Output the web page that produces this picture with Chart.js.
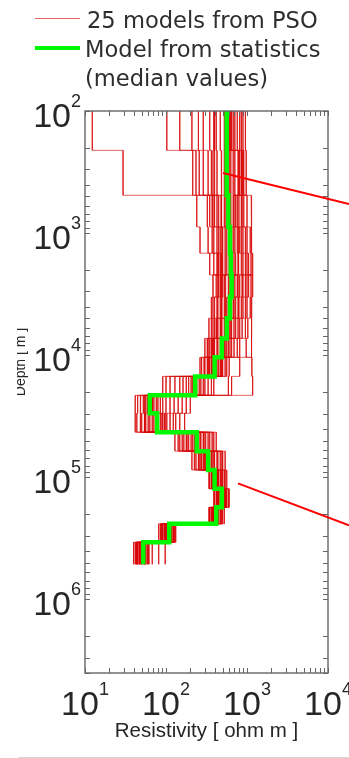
<!DOCTYPE html>
<html>
<head>
<meta charset="utf-8">
<title>PSO resistivity models</title>
<script src="https://cdn.jsdelivr.net/npm/chart.js@4.4.1/dist/chart.umd.min.js"></script>
<style>
  html, body { margin: 0; padding: 0; background: #ffffff; }
  #wrap { position: relative; width: 349px; height: 758px; overflow: hidden; }
  canvas { display: block; }
</style>
</head>
<body>
<div id="wrap"><canvas id="profile" width="349" height="758"></canvas></div>
<script>
// Depth of the top of each layer (m); the last layer ends at layerBottom
const layerTops = [100, 210, 490, 890, 1460, 2200, 3340, 4980, 7280, 10400,
                   14900, 21300, 29900, 42700, 61000, 87000, 124000, 176000, 240000, 340000];
const layerBottom = 515000;

// log10 of resistivity (ohm m), one value per layer, for each of the 25 PSO models
const pso01 = [1.09, 1.47, 2.38, 2.42, 2.54, 2.69, 2.68, 2.64, 2.58, 2.58, 2.35, 1.81, 1.85, 2.37, 2.52, 2.62, 2.70, 2.63, 2.05, 1.73];
const pso02 = [2.46, 2.52, 2.65, 2.69, 2.69, 2.74, 2.73, 2.69, 2.63, 2.51, 2.17, 1.74, 1.73, 2.17, 2.37, 2.56, 2.63, 2.56, 1.95, 1.64];
const pso03 = [2.75, 2.75, 2.80, 2.83, 2.84, 2.88, 2.84, 2.80, 2.73, 2.69, 2.48, 2.00, 1.99, 2.52, 2.64, 2.69, 2.73, 2.65, 2.07, 1.77];
const pso04 = [2.88, 2.93, 2.90, 2.93, 2.95, 2.91, 2.89, 2.84, 2.77, 2.60, 2.36, 1.83, 1.89, 2.33, 2.48, 2.60, 2.65, 2.59, 1.99, 1.67];
const pso05 = [2.60, 2.60, 2.58, 2.63, 2.65, 2.64, 2.60, 2.58, 2.52, 2.44, 2.00, 1.65, 1.64, 2.25, 2.43, 2.58, 2.67, 2.60, 2.01, 1.69];
const pso06 = [2.80, 2.85, 2.94, 2.98, 3.00, 3.05, 3.04, 3.01, 2.99, 3.06, 3.07, 2.30, 2.23, 2.57, 2.69, 2.72, 2.74, 2.67, 2.09, 1.78];
const pso07 = [2.17, 2.37, 2.57, 2.59, 2.64, 2.58, 2.56, 2.53, 2.48, 2.54, 2.28, 1.78, 1.78, 2.36, 2.51, 2.62, 2.64, 2.58, 1.98, 1.65];
const pso08 = [2.95, 2.96, 3.05, 3.06, 3.07, 2.98, 2.95, 2.91, 2.84, 2.67, 2.43, 1.93, 1.96, 2.40, 2.54, 2.63, 2.69, 2.62, 2.04, 1.70];
const pso09 = [2.67, 2.68, 2.69, 2.73, 2.73, 2.79, 2.77, 2.73, 2.67, 2.62, 2.37, 1.85, 1.90, 2.43, 2.57, 2.64, 2.72, 2.64, 2.06, 1.75];
const pso10 = [2.78, 2.80, 2.77, 2.79, 2.80, 2.77, 2.75, 2.72, 2.64, 2.56, 2.31, 1.79, 1.80, 2.26, 2.44, 2.58, 2.63, 2.57, 1.96, 1.64];
const pso11 = [2.54, 2.56, 2.68, 2.70, 2.70, 2.67, 2.64, 2.62, 2.56, 2.47, 2.05, 1.69, 1.68, 2.11, 2.32, 2.53, 2.60, 2.54, 1.93, 1.62];
const pso12 = [2.83, 2.90, 2.84, 2.88, 2.89, 2.83, 2.80, 2.77, 2.70, 2.70, 2.52, 2.05, 2.01, 2.47, 2.60, 2.67, 2.75, 2.69, 2.10, 1.83];
const pso13 = [2.98, 2.99, 2.96, 3.00, 3.02, 3.07, 3.06, 3.05, 3.06, 2.78, 2.77, 2.20, 2.12, 2.62, 2.73, 2.75, 2.78, 2.72, 2.12, 1.99];
const pso14 = [2.32, 2.41, 2.51, 2.52, 2.59, 2.65, 2.63, 2.60, 2.54, 2.42, 1.96, 1.62, 1.62, 2.20, 2.40, 2.57, 2.59, 2.53, 1.91, 1.60];
const pso15 = [2.72, 2.72, 2.79, 2.81, 2.81, 2.89, 2.86, 2.81, 2.75, 2.63, 2.38, 1.88, 1.93, 2.35, 2.49, 2.60, 2.67, 2.59, 2.00, 1.68];
const pso16 = [2.91, 2.94, 2.93, 2.95, 2.98, 2.94, 2.90, 2.86, 2.79, 2.73, 2.56, 2.10, 2.05, 2.54, 2.67, 2.70, 2.73, 2.65, 2.07, 1.75];
const pso17 = [2.62, 2.63, 2.74, 2.78, 2.78, 2.70, 2.69, 2.67, 2.59, 2.52, 2.21, 1.75, 1.74, 2.31, 2.47, 2.59, 2.69, 2.62, 2.04, 1.72];
const pso18 = [2.01, 2.33, 2.54, 2.57, 2.63, 2.62, 2.58, 2.56, 2.51, 2.48, 2.11, 1.72, 1.70, 2.15, 2.35, 2.54, 2.62, 2.54, 1.94, 1.63];
const pso19 = [2.79, 2.83, 2.86, 2.89, 2.90, 2.95, 2.93, 2.89, 2.81, 2.68, 2.46, 1.96, 1.98, 2.38, 2.53, 2.63, 2.72, 2.64, 2.06, 1.74];
const pso20 = [2.85, 2.91, 3.00, 3.04, 3.05, 3.02, 3.00, 2.98, 2.91, 2.75, 2.59, 2.15, 2.09, 2.59, 2.70, 2.73, 2.77, 2.70, 2.11, 1.91];
const pso21 = [2.40, 2.46, 2.60, 2.65, 2.67, 2.72, 2.72, 2.68, 2.60, 2.57, 2.33, 1.80, 1.83, 2.28, 2.46, 2.59, 2.64, 2.57, 1.96, 1.65];
const pso22 = [2.77, 2.78, 2.72, 2.75, 2.75, 2.81, 2.79, 2.75, 2.69, 2.65, 2.41, 1.90, 1.95, 2.46, 2.59, 2.65, 2.70, 2.63, 2.05, 1.74];
const pso23 = [2.93, 2.95, 2.88, 2.91, 2.93, 3.00, 2.98, 2.94, 2.88, 2.91, 2.81, 2.25, 2.17, 2.49, 2.63, 2.68, 2.74, 2.68, 2.09, 1.79];
const pso24 = [2.59, 2.58, 2.63, 2.67, 2.68, 2.68, 2.67, 2.63, 2.57, 2.53, 2.25, 1.77, 1.75, 2.22, 2.41, 2.57, 2.65, 2.58, 1.99, 1.67];
const pso25 = [2.81, 2.89, 2.83, 2.85, 2.86, 2.85, 2.83, 2.78, 2.72, 2.59, 2.36, 1.83, 1.88, 2.42, 2.56, 2.64, 2.68, 2.60, 2.02, 1.70];

// log10 of resistivity (ohm m) of the model built from the median values
const medianModel = [2.75, 2.75, 2.77, 2.79, 2.80, 2.81, 2.79, 2.75, 2.69, 2.60, 2.36, 1.80, 1.89, 2.38, 2.52, 2.60, 2.69, 2.62, 2.04, 1.72];

// Axis ranges and decade tick labels (exponents of 10)
const rhoRange = [10, 10000];
const depthRange = [100, 4000000];
const xTickExponents = [1, 2, 3, 4];
const yTickExponents = [2, 3, 4, 5, 6];

// Pointer lines: [resistivity, depth] at each end
const pointerUpperFrom = [505, 322];
const pointerUpperTo = [18150, 578];
const pointerLowerFrom = [774, 112000];
const pointerLowerTo = [18150, 247000];

const legendLabels = ['25 models from PSO', 'Model from statistics', '(median values)'];
const xTitle = 'Resistivity [ ohm m ]';
const yTitle = 'Depth [ m ]';

const psoModels = [pso01, pso02, pso03, pso04, pso05, pso06, pso07, pso08, pso09, pso10,
                   pso11, pso12, pso13, pso14, pso15, pso16, pso17, pso18, pso19, pso20,
                   pso21, pso22, pso23, pso24, pso25];

const PSO_COLOR = 'rgba(215, 0, 0, 0.6)';
const MEDIAN_COLOR = 'rgb(0, 248, 0)';
const AXIS_COLOR = '#666666';
const TEXT_COLOR = '#262626';

// Turn a layered model into the corner points of its staircase profile
function stepPoints(logRho) {
  const pts = [];
  logRho.forEach((v, i) => {
    const rho = Math.pow(10, v);
    const top = layerTops[i];
    const bottom = i + 1 < layerTops.length ? layerTops[i + 1] : layerBottom;
    pts.push({ x: rho, y: top }, { x: rho, y: bottom });
  });
  return pts;
}

const datasets = [{
  label: 'median',
  data: stepPoints(medianModel),
  borderColor: MEDIAN_COLOR,
  borderWidth: 4.5,
  order: 0
}];
psoModels.forEach((m, i) => {
  datasets.push({
    label: 'pso' + (i + 1),
    data: stepPoints(m),
    borderColor: PSO_COLOR,
    borderWidth: 1,
    order: 1
  });
});

// Matlab-style frame: box, inward ticks, 10^n labels, titles, legend and pointer lines
const figureDecor = {
  id: 'figureDecor',
  afterDraw(chart) {
    const ctx = chart.ctx;
    const ca = chart.chartArea;
    const xs = chart.scales.x;
    const ys = chart.scales.y;
    ctx.save();

    // box
    ctx.strokeStyle = AXIS_COLOR;
    ctx.lineWidth = 1.4;
    ctx.strokeRect(ca.left, ca.top, ca.right - ca.left, ca.bottom - ca.top);

    // inward ticks on all four sides (decades and 2..9 multiples)
    const tickLen = 5;
    ctx.lineWidth = 1;
    ctx.beginPath();
    for (let e = 1; e <= 3; e++) {
      for (let m = 1; m <= 10; m++) {
        const v = m * Math.pow(10, e);
        if (v < rhoRange[0] || v > rhoRange[1]) continue;
        const px = Math.round(xs.getPixelForValue(v)) + 0.5;
        ctx.moveTo(px, ca.bottom); ctx.lineTo(px, ca.bottom - tickLen);
        ctx.moveTo(px, ca.top); ctx.lineTo(px, ca.top + tickLen);
      }
    }
    for (let e = 2; e <= 6; e++) {
      for (let m = 1; m <= 10; m++) {
        const v = m * Math.pow(10, e);
        if (v < depthRange[0] || v > depthRange[1]) continue;
        const py = Math.round(ys.getPixelForValue(v)) + 0.5;
        ctx.moveTo(ca.left, py); ctx.lineTo(ca.left + tickLen, py);
        ctx.moveTo(ca.right, py); ctx.lineTo(ca.right - tickLen, py);
      }
    }
    ctx.stroke();

    // tick labels: large "10" with a raised exponent
    const bigFont = '34px "Liberation Sans", Arial, sans-serif';
    const supFont = '18px "Liberation Sans", Arial, sans-serif';
    ctx.fillStyle = TEXT_COLOR;
    ctx.textBaseline = 'alphabetic';
    ctx.textAlign = 'left';
    xTickExponents.forEach(e => {
      const px = xs.getPixelForValue(Math.pow(10, e));
      ctx.font = bigFont;
      const w10 = ctx.measureText('10').width;
      ctx.font = supFont;
      const wSup = ctx.measureText(String(e)).width;
      const x0 = px - (w10 + wSup) / 2;
      ctx.font = bigFont;
      ctx.fillText('10', x0, 715);
      ctx.font = supFont;
      ctx.fillText(String(e), x0 + w10, 695);
    });
    yTickExponents.forEach(e => {
      const py = ys.getPixelForValue(Math.pow(10, e));
      ctx.font = supFont;
      const wSup = ctx.measureText(String(e)).width;
      ctx.font = bigFont;
      const w10 = ctx.measureText('10').width;
      const xRight = ca.left - 4;
      ctx.fillText('10', xRight - wSup - w10, py + 16);
      ctx.font = supFont;
      ctx.fillText(String(e), xRight - wSup, py - 4);
    });

    // axis titles
    ctx.font = '20.5px "Liberation Sans", Arial, sans-serif';
    ctx.textAlign = 'center';
    ctx.fillText(xTitle, (ca.left + ca.right) / 2, 737);
    ctx.save();
    ctx.beginPath();
    ctx.rect(17, 0, chart.width, chart.height); // left margin of the figure is trimmed
    ctx.clip();
    ctx.translate(25, 362);
    ctx.rotate(-Math.PI / 2);
    ctx.font = '14px "Liberation Sans", Arial, sans-serif';
    ctx.fillText(yTitle, 0, 0);
    ctx.restore();

    // legend
    ctx.lineCap = 'butt';
    ctx.strokeStyle = PSO_COLOR;
    ctx.lineWidth = 1.2;
    ctx.beginPath(); ctx.moveTo(35, 18.5); ctx.lineTo(80, 18.5); ctx.stroke();
    ctx.strokeStyle = MEDIAN_COLOR;
    ctx.lineWidth = 4;
    ctx.beginPath(); ctx.moveTo(35, 48); ctx.lineTo(80, 48); ctx.stroke();
    ctx.font = '22.6px "DejaVu Sans", Verdana, sans-serif';
    ctx.textAlign = 'left';
    ctx.fillStyle = '#2e2e2e';
    ctx.fillText(legendLabels[0], 87, 28);
    ctx.fillText(legendLabels[1], 85, 57);
    ctx.fillText(legendLabels[2], 85, 86);

    // pointer lines running off to the right
    ctx.strokeStyle = 'rgb(255, 0, 0)';
    ctx.lineWidth = 2;
    [[pointerUpperFrom, pointerUpperTo], [pointerLowerFrom, pointerLowerTo]].forEach(([a, b]) => {
      ctx.beginPath();
      ctx.moveTo(xs.getPixelForValue(a[0]), ys.getPixelForValue(a[1]));
      ctx.lineTo(xs.getPixelForValue(b[0]), ys.getPixelForValue(b[1]));
      ctx.stroke();
    });

    // thin rule under the figure
    ctx.strokeStyle = '#d6d6d6';
    ctx.lineWidth = 1;
    ctx.beginPath(); ctx.moveTo(18, 757.5); ctx.lineTo(349, 757.5); ctx.stroke();

    ctx.restore();
  }
};

new Chart(document.getElementById('profile'), {
  type: 'scatter',
  data: { datasets },
  options: {
    responsive: false,
    animation: false,
    devicePixelRatio: 1,
    showLine: true,
    layout: { padding: { left: 85, right: 21, top: 111, bottom: 85 } },
    plugins: { legend: { display: false }, tooltip: { enabled: false } },
    elements: {
      point: { radius: 0, hoverRadius: 0 },
      line: { tension: 0, fill: false, borderJoinStyle: 'miter', borderCapStyle: 'butt' }
    },
    scales: {
      x: { type: 'logarithmic', min: rhoRange[0], max: rhoRange[1], display: false },
      y: { type: 'logarithmic', min: depthRange[0], max: depthRange[1], reverse: true, display: false }
    }
  },
  plugins: [figureDecor]
});
</script>
</body>
</html>
